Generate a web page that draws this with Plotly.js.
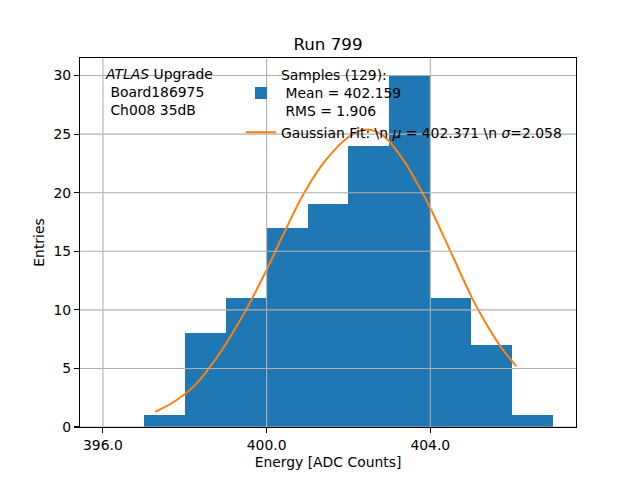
<!DOCTYPE html>
<html>
<head>
<meta charset="utf-8">
<script src="https://cdn.plot.ly/plotly-3.0.1.min.js"></script>
<style>html,body{margin:0;padding:0;background:#fff;}#chart{width:640px;height:480px;}</style>
</head>
<body>
<div id="chart"></div>
<script>
// Histogram bins (left edges, width 1) and counts
const binLeft = [397, 398, 399, 400, 401, 402, 403, 404, 405, 406];
const counts  = [1, 8, 11, 17, 19, 24, 30, 11, 7, 1];
const binWidth = 1;

// Gaussian fit curve
const fitX = [397.28, 397.69, 397.98, 398.26, 398.59, 399.0, 399.24, 399.5, 399.73, 400.0, 400.39, 400.92, 401.45, 402.02, 402.43, 402.84, 403.34, 403.79, 404.0, 404.48, 404.98, 405.14, 405.71, 406.1];
const fitY = [1.3, 2.05, 2.75, 3.6, 5.0, 7.07, 8.45, 10.0, 11.55, 13.4, 16.3, 20.0, 22.8, 24.8, 25.4, 24.9, 22.8, 20.1, 18.7, 15.1, 11.3, 10.2, 6.9, 5.2];

const xTicks = [396, 400, 404];
const yTicks = [0, 5, 10, 15, 20, 25, 30];

const titleText = "Run 799";
const xLabel = "Energy [ADC Counts]";
const yLabel = "Entries";
const histLabel = "Samples (129):<br>\u00a0Mean = 402.159<br>\u00a0RMS = 1.906";
const fitLabel = "Gaussian Fit: \\n <i>\u03bc</i> = 402.371 \\n <i>\u03c3</i>=2.058";
const atlasText = "<i>ATLAS</i> Upgrade<br>\u00a0Board186975<br>\u00a0Ch008 35dB";

const FONT = "DejaVu Sans, sans-serif";
const FS = 13.9;

const traces = [
  {
    type: "bar",
    x: binLeft,
    y: counts,
    width: binWidth,
    offset: 0,
    marker: {color: "#1f77b4", line: {width: 0}},
    name: histLabel,
    hoverinfo: "skip"
  },
  {
    type: "scatter",
    mode: "lines",
    x: fitX,
    y: fitY,
    line: {color: "#ff7f0e", width: 2, shape: "spline", smoothing: 1},
    name: fitLabel,
    hoverinfo: "skip"
  }
];

const gridShapes = [];
xTicks.forEach(v => gridShapes.push({type: "line", xref: "x", yref: "paper", x0: v, x1: v, y0: 0, y1: 1, line: {color: "#b0b0b0", width: 1.1}, layer: "above"}));
yTicks.forEach(v => gridShapes.push({type: "line", xref: "paper", yref: "y", x0: 0, x1: 1, y0: v, y1: v, line: {color: "#b0b0b0", width: 1.1}, layer: "above"}));

const layout = {
  width: 640,
  height: 480,
  paper_bgcolor: "#fff",
  plot_bgcolor: "#fff",
  font: {family: FONT, size: FS, color: "#000"},
  margin: {l: 80, r: 64, t: 57.6, b: 52.8, pad: 0},
  bargap: 0,
  showlegend: true,
  title: {text: titleText, font: {family: FONT, size: 16.7, color: "#000"}, xref: "paper", x: 0.5, xanchor: "center", yref: "container", y: 1 - 44/480, yanchor: "middle"},
  xaxis: {
    range: [395.44, 407.56],
    tickvals: xTicks,
    tickformat: ".1f",
    showgrid: false,
    zeroline: false,
    showline: true, mirror: true, linecolor: "#000", linewidth: 1.1,
    ticks: "outside", ticklen: 5, tickwidth: 1.1, tickcolor: "#000",
    tickfont: {family: FONT, size: FS, color: "#000"},
    title: {text: xLabel, font: {family: FONT, size: FS, color: "#000"}, standoff: 5}
  },
  yaxis: {
    range: [0, 31.5],
    tickvals: yTicks,
    showgrid: false,
    zeroline: false,
    showline: true, mirror: true, linecolor: "#000", linewidth: 1.1,
    ticks: "outside", ticklen: 5, tickwidth: 1.1, tickcolor: "#000",
    tickfont: {family: FONT, size: FS, color: "#000"},
    title: {text: yLabel, font: {family: FONT, size: FS, color: "#000"}, standoff: 5}
  },
  legend: {
    x: (241 - 80) / 496, xanchor: "left",
    y: (427.2 - 59) / 369.6, yanchor: "top",
    bgcolor: "rgba(0,0,0,0)", borderwidth: 0,
    font: {family: FONT, size: FS, color: "#000"},
    itemwidth: 30, tracegroupgap: 0
  },
  shapes: gridShapes,
  annotations: [
    {text: atlasText, xref: "paper", yref: "paper", x: (103 - 80) / 496, y: (427.2 - 64) / 369.6, xanchor: "left", yanchor: "top", align: "left", showarrow: false, font: {family: FONT, size: FS, color: "#000"}}
  ]
};

Plotly.newPlot("chart", traces, layout, {displayModeBar: false, staticPlot: true});
</script>
</body>
</html>
